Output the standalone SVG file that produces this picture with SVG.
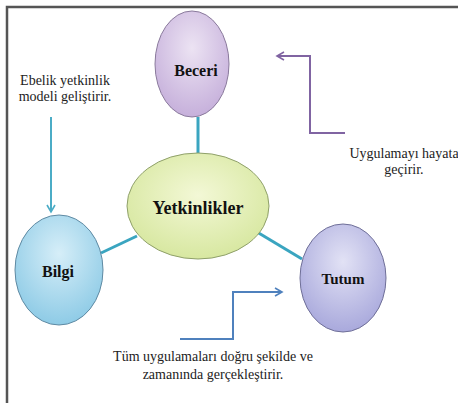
<svg xmlns="http://www.w3.org/2000/svg" width="458" height="403" viewBox="0 0 458 403">
<defs>
<style>
.lbl{font-family:"Liberation Serif","Times New Roman",serif;font-size:14px;fill:#222;text-anchor:middle}
.node{font-family:"Liberation Serif","Times New Roman",serif;font-weight:bold;fill:#111;text-anchor:middle}
.spoke{stroke:#3aa5c0;stroke-width:3;fill:none}
.arr{fill:none;stroke-width:2}
</style>
<radialGradient id="gP" cx="0.5" cy="0.35" r="0.65"><stop offset="0" stop-color="#ece3f3"/><stop offset="1" stop-color="#c6b0db"/></radialGradient>
<radialGradient id="gY" cx="0.5" cy="0.4" r="0.65"><stop offset="0" stop-color="#f3f8d6"/><stop offset="1" stop-color="#d5e69c"/></radialGradient>
<radialGradient id="gB" cx="0.5" cy="0.35" r="0.65"><stop offset="0" stop-color="#d6eef8"/><stop offset="1" stop-color="#8ecbe6"/></radialGradient>
<radialGradient id="gT" cx="0.5" cy="0.35" r="0.65"><stop offset="0" stop-color="#e2e2f5"/><stop offset="1" stop-color="#a9a9dc"/></radialGradient>
<marker id="mTeal" markerWidth="10" markerHeight="10" refX="8" refY="5" orient="auto" markerUnits="userSpaceOnUse"><path d="M1,1 L8,5 L1,9" fill="none" stroke="#4bacc6" stroke-width="1.6"/></marker>
<marker id="mPur" markerWidth="10" markerHeight="10" refX="8" refY="5" orient="auto" markerUnits="userSpaceOnUse"><path d="M1,1 L8,5 L1,9" fill="none" stroke="#8064a2" stroke-width="1.6"/></marker>
<marker id="mBlu" markerWidth="10" markerHeight="10" refX="8" refY="5" orient="auto" markerUnits="userSpaceOnUse"><path d="M1,1 L8,5 L1,9" fill="none" stroke="#4f81bd" stroke-width="1.6"/></marker>
</defs>
<rect width="458" height="403" fill="#fff"/>
<path d="M7,403 V7 H458" fill="none" stroke="#555" stroke-width="2.5"/>
<g id="connectors">
<line class="spoke" x1="198" y1="117" x2="198" y2="154"/>
<line class="spoke" x1="101" y1="253" x2="137" y2="236"/>
<line class="spoke" x1="257" y1="232" x2="302" y2="259"/>
<path class="arr" d="M51,117 V212" stroke="#4bacc6" marker-end="url(#mTeal)"/>
<path class="arr" d="M345,133 H310 V56 H277" stroke="#8064a2" marker-end="url(#mPur)"/>
<path class="arr" d="M180,339 H233 V292 H282" stroke="#4f81bd" marker-end="url(#mBlu)"/>
</g>
<g id="beceri">
<ellipse cx="192" cy="64" rx="37" ry="53" fill="url(#gP)" stroke="#8a7a9c" stroke-width="1"/>
<text class="node" x="196" y="76" font-size="16">Beceri</text>
</g>
<g id="yetkinlikler">
<ellipse cx="198" cy="206" rx="71" ry="53" fill="url(#gY)" stroke="#8fa06a" stroke-width="1"/>
<text class="node" x="198" y="214" font-size="18">Yetkinlikler</text>
</g>
<g id="bilgi">
<ellipse cx="59" cy="270" rx="44" ry="55" fill="url(#gB)" stroke="#5f8aa3" stroke-width="1"/>
<text class="node" x="58" y="277" font-size="16">Bilgi</text>
</g>
<g id="tutum">
<ellipse cx="343" cy="278" rx="43" ry="54" fill="url(#gT)" stroke="#6f6f98" stroke-width="1"/>
<text class="node" x="343" y="284" font-size="15">Tutum</text>
</g>
<g id="labels">
<text class="lbl" x="65" y="85">Ebelik yetkinlik</text>
<text class="lbl" x="65" y="101">modeli geliştirir.</text>
<text class="lbl" x="404" y="158">Uygulamayı hayata</text>
<text class="lbl" x="404" y="174">geçirir.</text>
<text class="lbl" x="213" y="361">Tüm uygulamaları doğru şekilde ve</text>
<text class="lbl" x="213" y="379">zamanında gerçekleştirir.</text>
</g>
</svg>
